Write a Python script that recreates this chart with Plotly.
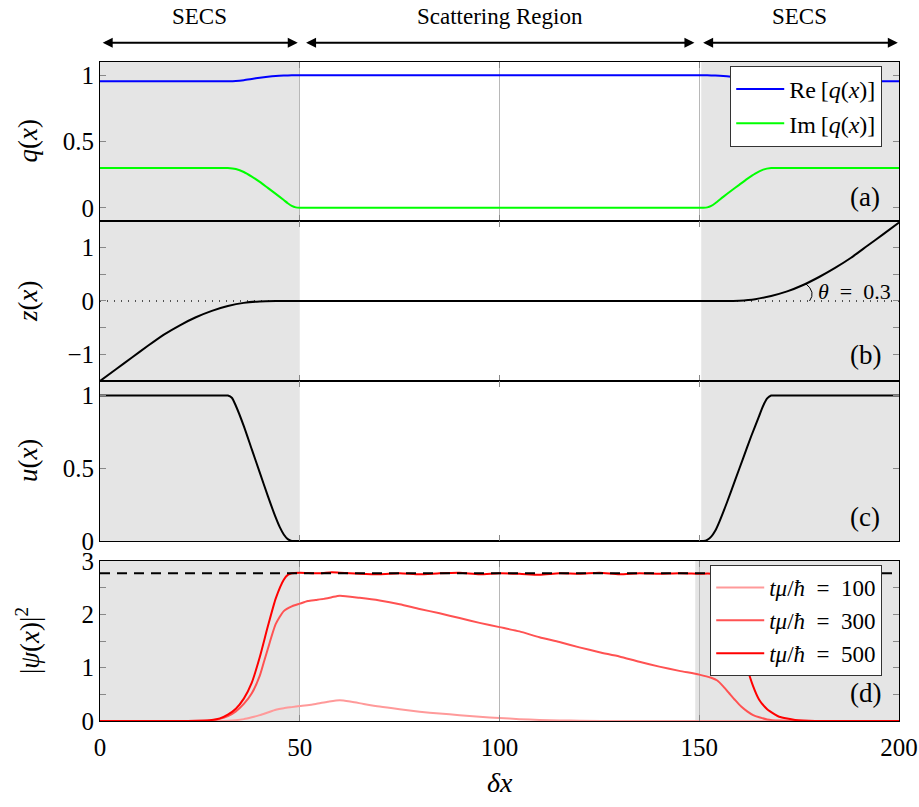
import plotly.graph_objects as go

FONT = "Liberation Serif"

# ---------------- data ----------------
x_q = [0, 10, 20, 30, 32, 34, 36, 38, 40, 42, 44, 46, 47, 48, 49, 50, 55, 60, 80, 100, 120, 140,
       145, 150, 151, 152, 153, 154, 156, 158, 160, 162, 164, 166, 168, 170, 180, 190, 200]
re_q = [0.955, 0.955, 0.955, 0.955, 0.955, 0.957, 0.963, 0.972, 0.981, 0.989, 0.995, 0.998, 0.999,
        1.0, 1.0, 1.0, 1.0, 1.0, 1.0, 1.0, 1.0, 1.0,
        1.0, 1.0, 1.0, 1.0, 0.999, 0.998, 0.995, 0.989, 0.981, 0.972, 0.963, 0.957, 0.955, 0.955,
        0.955, 0.955, 0.955]
im_q = [0.3, 0.3, 0.3, 0.3, 0.3, 0.292, 0.27, 0.235, 0.195, 0.15, 0.105, 0.058, 0.034, 0.014,
        0.003, 0.0, 0.0, 0.0, 0.0, 0.0, 0.0, 0.0,
        0.0, 0.0, 0.0, 0.003, 0.014, 0.034, 0.082, 0.128, 0.173, 0.218, 0.258, 0.288, 0.3, 0.3,
        0.3, 0.3, 0.3]

x_z = [0, 4, 8, 12, 16, 20, 24, 28, 32, 36, 40, 44, 50, 100, 150, 156, 160, 164, 168, 172,
       176, 180, 184, 188, 192, 196, 200]
z_vals = [-1.5, -1.28, -1.06, -0.84, -0.63, -0.455, -0.305, -0.185, -0.095, -0.035, -0.007, 0.0,
          0.0, 0.0, 0.0, 0.0, 0.007, 0.035, 0.095, 0.18, 0.3, 0.45, 0.62, 0.81, 1.03, 1.25, 1.47]

x_u = [0, 10, 20, 30, 32, 33, 34, 36, 38, 40, 42, 44, 45, 46, 47, 48, 50, 100, 150, 151, 152,
       153, 154, 155, 157, 159, 161, 163, 165, 166, 167, 168, 170, 180, 200]
u_vals = [1.0, 1.0, 1.0, 1.0, 1.0, 0.985, 0.93, 0.79, 0.63, 0.47, 0.31, 0.16, 0.095, 0.045, 0.013,
          0.0, 0.0, 0.0, 0.0, 0.0, 0.008, 0.03, 0.07, 0.13, 0.27, 0.42, 0.57, 0.72, 0.86, 0.93,
          0.98, 1.0, 1.0, 1.0, 1.0]

x_t100 = [0, 20, 30, 32, 34, 36, 38, 40, 42, 44, 46, 48, 50, 54, 57, 60, 63, 66, 70, 75, 80, 85,
          90, 95, 100, 105, 110, 115, 120, 130, 160, 200]
psi_t100 = [0.0, 0.0, 0.0, 0.005, 0.015, 0.035, 0.07, 0.11, 0.16, 0.21, 0.24, 0.26, 0.28, 0.32,
            0.36, 0.39, 0.36, 0.32, 0.27, 0.22, 0.175, 0.14, 0.11, 0.08, 0.055, 0.035, 0.02,
            0.01, 0.005, 0.0, 0.0, 0.0]

x_t300 = [0, 20, 25, 28, 30, 32, 34, 36, 38, 40, 41, 42, 44, 46, 48, 50, 52, 54, 56, 58, 60, 65,
          70, 75, 80, 85, 90, 95, 100, 105, 110, 115, 120, 125, 130, 135, 140, 145, 150, 153,
          154.5, 156, 157.5, 159, 160.5, 162, 163.5, 165, 167, 170, 175, 200]
psi_t300 = [0.0, 0.001, 0.004, 0.015, 0.04, 0.09, 0.18, 0.32, 0.52, 0.85, 1.1, 1.35, 1.82, 2.06,
            2.15, 2.2, 2.25, 2.27, 2.29, 2.32, 2.35, 2.31, 2.26, 2.19, 2.1, 2.02, 1.93, 1.84,
            1.76, 1.68, 1.57, 1.48, 1.38, 1.29, 1.21, 1.11, 1.02, 0.94, 0.87, 0.81, 0.76, 0.65,
            0.52, 0.39, 0.27, 0.18, 0.11, 0.07, 0.03, 0.008, 0.0, 0.0]

x_t500 = [0, 20, 25, 28, 30, 32, 34, 36, 38, 40, 42, 44, 46, 47, 48, 50, 55, 58, 60, 65, 70, 75,
          80, 85, 90, 95, 100, 105, 110, 115, 120, 125, 130, 135, 140, 145, 150, 153, 155, 157,
          159, 161, 162, 163.5, 165, 167, 169, 170, 172, 174, 176, 179, 185, 200]
psi_t500 = [0.0, 0.001, 0.005, 0.02, 0.05, 0.12, 0.23, 0.42, 0.72, 1.2, 1.77, 2.3, 2.65, 2.74,
            2.77, 2.78, 2.77, 2.79, 2.78, 2.76, 2.75, 2.77, 2.75, 2.77, 2.78, 2.75, 2.77, 2.76,
            2.74, 2.77, 2.76, 2.78, 2.75, 2.77, 2.76, 2.77, 2.76, 2.76, 2.68, 2.4, 1.9, 1.3, 1.0,
            0.65, 0.4, 0.22, 0.12, 0.08, 0.045, 0.02, 0.008, 0.0, 0.0, 0.0]

x_ref = [0, 200]
psi_ref = [2.77, 2.77]

y_ticks_a = [0, 0.5, 1]
y_ticks_b = [-1, 0, 1]
y_labels_b = ["\u22121", "0", "1"]
y_ticks_c = [0, 0.5, 1]
y_ticks_d = [0, 1, 2, 3]
x_ticks = [0, 50, 100, 150, 200]

# ---------------- figure ----------------
fig = go.Figure()

def line(x, y, xa, ya, color, width=2, name=None, legend=None, dash="solid", shape="spline"):
    fig.add_trace(go.Scatter(
        x=x, y=y, xaxis=xa, yaxis=ya, mode="lines",
        line=dict(color=color, width=width, dash=dash, shape=shape,
                  smoothing=0.6 if shape == "spline" else None),
        name=name if name else "", showlegend=name is not None,
        legend=legend if legend else "legend", hoverinfo="skip"))

line(x_q, re_q, "x", "y", "#0000ff", name="Re\u2009[<i>q</i>(<i>x</i>)]", legend="legend")
line(x_q, im_q, "x", "y", "#00ff00", name="Im\u2009[<i>q</i>(<i>x</i>)]", legend="legend")

line(x_ref, [0, 0], "x2", "y2", "#222222", width=1.3, dash="1px,6px", shape="linear")
line(x_z, z_vals, "x2", "y2", "black")

line(x_u, u_vals, "x3", "y3", "black")

EQ = "\u2002=\u2002"
line(x_t100, psi_t100, "x4", "y4", "#ff9a9a",
     name="<i>t\u03bc</i>/<i>\u0127</i>" + EQ + "100", legend="legend2")
line(x_t300, psi_t300, "x4", "y4", "#ff5252",
     name="<i>t\u03bc</i>/<i>\u0127</i>" + EQ + "300", legend="legend2")
line(x_t500, psi_t500, "x4", "y4", "#ff0000",
     name="<i>t\u03bc</i>/<i>\u0127</i>" + EQ + "500", legend="legend2")
line(x_ref, psi_ref, "x4", "y4", "black", width=2, dash="10px,7px", shape="linear")

tickfont = dict(family=FONT, size=25, color="black")

def xaxis(anchor, grid, labels):
    return dict(domain=[0, 1], range=[0, 200], anchor=anchor, tickvals=x_ticks,
                ticks="inside", ticklen=6, tickcolor="#888888", showline=True,
                linecolor="black", linewidth=1, mirror="ticks", zeroline=False,
                showgrid=grid, gridcolor="#b8b8b8", gridwidth=1,
                showticklabels=labels, tickfont=tickfont, automargin=False,
                ticklabeloverflow="allow", ticklabelstandoff=4)

def yaxis(anchor, domain, rng, tv, tt=None, minor=None):
    d = dict(domain=domain, range=rng, anchor=anchor, tickvals=tv,
             ticktext=tt if tt else [("%g" % v) for v in tv],
             ticks="inside", ticklen=6, tickcolor="#888888", showline=True,
             linecolor="black", linewidth=1, mirror="ticks", zeroline=False,
             showgrid=False, tickfont=tickfont, automargin=False,
             ticklabeloverflow="allow")
    if minor:
        d["minor"] = dict(tickvals=minor, ticks="inside", ticklen=6, tickcolor="#888888",
                          showgrid=False)
    return d

dom_a = [0.75873, 1.0]
dom_b = [0.51593, 0.75873]
dom_c = [0.27314, 0.51593]
dom_d = [0.0, 0.24279]

fig.update_layout(
    width=919, height=807, autosize=False,
    margin=dict(l=100, r=20, t=62, b=86, autoexpand=False),
    paper_bgcolor="white", plot_bgcolor="white",
    font=dict(family=FONT, size=22, color="black"),
    xaxis=xaxis("y", True, False),
    xaxis2=xaxis("y2", False, False),
    xaxis3=xaxis("y3", False, False),
    xaxis4=xaxis("y4", True, True),
    yaxis=yaxis("x", dom_a, [-0.1, 1.1], y_ticks_a),
    yaxis2=yaxis("x2", dom_b, [-1.5, 1.5], y_ticks_b, y_labels_b, minor=[-0.5, 0.5]),
    yaxis3=yaxis("x3", dom_c, [0, 1.1], y_ticks_c),
    yaxis4=yaxis("x4", dom_d, [0, 3], y_ticks_d, minor=[0.5, 1.5, 2.5]),
    legend=dict(x=0.979, xanchor="right", y=0.994, yanchor="top", bgcolor="white",
                bordercolor="#333333", borderwidth=1, itemwidth=48,
                font=dict(family=FONT, size=24), tracegroupgap=0),
    legend2=dict(x=0.979, xanchor="right", y=0.2367, yanchor="top", bgcolor="white",
                 bordercolor="#333333", borderwidth=1, itemwidth=48,
                 font=dict(family=FONT, size=23), tracegroupgap=0),
)

# shaded SECS regions
shapes = []
for xr, yr, right_start in [("x", "y domain", 150.5), ("x2", "y2 domain", 150.5),
                            ("x3", "y3 domain", 150.5), ("x4", "y4 domain", 149)]:
    for x0, x1 in [(0, 50), (right_start, 200)]:
        shapes.append(dict(type="rect", xref=xr, yref=yr, x0=x0, x1=x1, y0=0, y1=1,
                           fillcolor="#e5e5e5", line=dict(width=0), layer="below"))
# theta arc
shapes.append(dict(type="path", xref="x2", yref="y2",
                   path="M 176.6,0.33 Q 179.3,0.165 177.6,0.0",
                   line=dict(color="black", width=1)))
fig.update_layout(shapes=shapes)

ann = []
# panel labels
for lab, yp in [("(a)", 0.795), ("(b)", 0.5554), ("(c)", 0.3096), ("(d)", 0.0425)]:
    ann.append(dict(text=lab, xref="paper", yref="paper", x=0.958, y=yp, showarrow=False,
                    font=dict(family=FONT, size=27), xanchor="center", yanchor="middle"))
# y titles
for lab, yp in [("<i>q</i>(<i>x</i>)", 0.8794), ("<i>z</i>(<i>x</i>)", 0.6373),
                ("<i>u</i>(<i>x</i>)", 0.3945), ("|<i>\u03c8</i>(<i>x</i>)|<sup>2</sup>", 0.1214)]:
    ann.append(dict(text=lab, xref="paper", yref="paper", x=-0.09, y=yp, showarrow=False,
                    textangle=-90, font=dict(family=FONT, size=27),
                    xanchor="center", yanchor="middle"))
# x title
ann.append(dict(text="<i>\u03b4x</i>", xref="paper", yref="paper", x=0.5, y=-0.0926,
                showarrow=False, font=dict(family=FONT, size=28),
                xanchor="center", yanchor="middle"))
# region labels
for lab, xc in [("SECS", 25), ("Scattering Region", 100), ("SECS", 175)]:
    ann.append(dict(text=lab, xref="x", yref="paper", x=xc, y=1.0687, showarrow=False,
                    font=dict(family=FONT, size=23), xanchor="center", yanchor="middle"))
# double arrows
for x0, x1 in [(0.3, 49.5), (51.2, 148.8), (150.6, 199.7)]:
    ann.append(dict(text="", xref="x", yref="paper", x=x1, y=1.0293, axref="x", ayref="pixel",
                    ax=x0, ay=0, showarrow=True, arrowhead=2, startarrowhead=2,
                    arrowside="end+start", arrowwidth=2, arrowsize=1, startarrowsize=1,
                    arrowcolor="black", standoff=0, startstandoff=0))
# theta label
ann.append(dict(text="<i>\u03b8</i>\u2002=\u20020.3", xref="x2", yref="y2", x=188.8, y=0.17,
                showarrow=False, font=dict(family=FONT, size=22),
                xanchor="center", yanchor="middle"))
fig.update_layout(annotations=ann)

post = ("document.body.style.margin='0px';document.body.style.padding='0px';"
        "document.body.style.overflow='hidden';")
fig.write_html("out.html", post_script=post,
               config={"responsive": False, "displayModeBar": False})
